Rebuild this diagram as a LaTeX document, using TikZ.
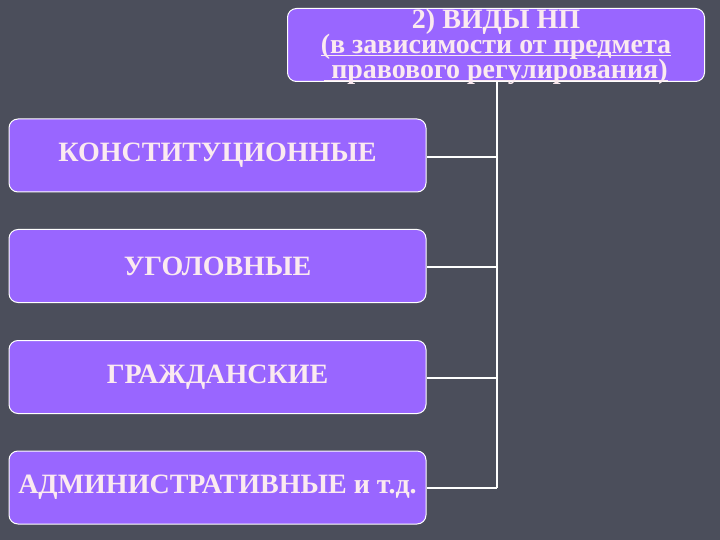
\documentclass[tikz,border=0pt]{standalone}
\usepackage{fontspec}
\setmainfont{Liberation Serif}
\newcommand\myul[1]{\setbox0\hbox{#1}\rlap{\rule[-2.5pt]{\wd0}{1.2pt}}\box0}
\newcommand\topfont{\bfseries\fontsize{28}{25}\selectfont\lineskiplimit=-100pt\relax}
\begin{document}
\begin{tikzpicture}[x=1pt,y=-1pt,
  box/.style={draw=white, line width=1pt, fill=boxfill, rounded corners=9pt, minimum width=417pt, minimum height=73pt, inner sep=0pt, text=txt, font=\bfseries\fontsize{28}{30}\selectfont},
  conn/.style={draw=white, line width=1.5pt}]
\definecolor{bg}{HTML}{4B4E5B}
\definecolor{boxfill}{HTML}{9966FF}
\definecolor{txt}{HTML}{FBEAF0}
\fill[bg] (0,0) rectangle (720,540);
\useasboundingbox (0,0) rectangle (720,540);
\node[box] (top) at (496,45) {};
\node[font=\topfont, text=txt, align=center, inner sep=0pt] (toptext) at (496,47) {2) ВИДЫ НП\\ \myul{(в зависимости от предмета}\\ \myul{\ правового регулирования)}};
\node[box] (b1) at (217.5,155.5) {КОНСТИТУЦИОННЫЕ};
\node[box] (b2) at (217.5,266) {УГОЛОВНЫЕ};
\node[box] (b3) at (217.5,377) {ГРАЖДАНСКИЕ};
\node[box] (b4) at (217.5,487.5) {АДМИНИСТРАТИВНЫЕ и т.д.};
\coordinate (v1) at (497,157);
\coordinate (v2) at (497,267);
\coordinate (v3) at (497,378);
\coordinate (v4) at (497,488);
\draw[conn] (top.south -| v1) -- (v4);
\draw[conn] (b1.east |- v1) -- (v1);
\draw[conn] (b2.east |- v2) -- (v2);
\draw[conn] (b3.east |- v3) -- (v3);
\draw[conn] (b4.east |- v4) -- (v4);
\end{tikzpicture}
\end{document}
